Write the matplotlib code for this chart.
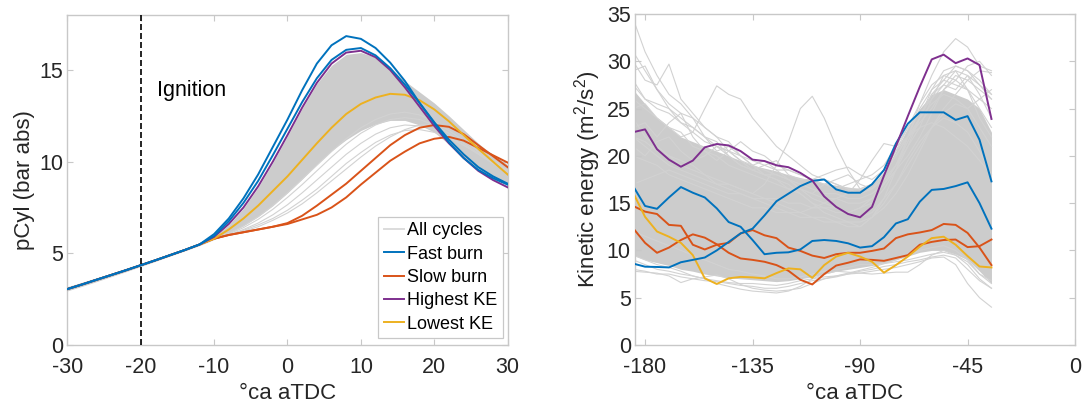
import numpy as np
import matplotlib
matplotlib.use("Agg")
import matplotlib.pyplot as plt
from matplotlib.lines import Line2D

plt.rcParams['font.family'] = ['Liberation Sans', 'DejaVu Sans']
plt.rcParams['mathtext.fontset'] = 'custom'
plt.rcParams['mathtext.rm'] = 'Liberation Sans'
plt.rcParams['mathtext.it'] = 'Liberation Sans:italic'
plt.rcParams['mathtext.default'] = 'regular'
plt.rcParams['axes.unicode_minus'] = False

BLUE, ORANGE, YELLOW, PURPLE = '#0072BD', '#D95319', '#EDB120', '#7E2F8E'
GREY_FILL, GREY_LINE = '#cccccc', '#d2d2d2'
TXT, EDGE = '#262626', '#c8c8c8'

# ---------------- in-cylinder pressure (bar abs) ----------------
ca_comp = [-30, -28, -26, -24, -22, -20, -18, -16, -14, -12]
ca_burn = [-10, -8, -6, -4, -2, 0, 2, 4, 6, 8, 10, 12, 14, 16, 18, 20, 22, 24, 26, 28, 30]

p_compression = [3.05, 3.30, 3.56, 3.82, 4.08, 4.35, 4.62, 4.90, 5.18, 5.48]
p_comp_hi = [3.18, 3.42, 3.67, 3.92, 4.17, 4.43, 4.69, 4.96, 5.24, 5.54]
p_comp_lo = [2.95, 3.20, 3.46, 3.73, 4.00, 4.28, 4.56, 4.85, 5.13, 5.42]

p_fast_1 = [6.05, 6.9, 8.0, 9.3, 10.8, 12.3, 13.9, 15.35, 16.35, 16.85, 16.7,
            16.2, 15.4, 14.4, 13.2, 12.1, 11.05, 10.2, 9.55, 9.1, 8.75]
p_fast_2 = [5.95, 6.75, 7.75, 8.95, 10.35, 11.8, 13.25, 14.55, 15.55, 16.1, 16.2,
            15.8, 15.1, 14.2, 13.2, 12.15, 11.2, 10.4, 9.7, 9.2, 8.8]
p_high_ke = [5.9, 6.6, 7.5, 8.65, 10.0, 11.45, 12.95, 14.3, 15.35, 15.95, 16.05,
             15.7, 15.0, 14.05, 13.0, 11.95, 11.0, 10.2, 9.5, 9.0, 8.6]
p_low_ke = [5.8, 6.3, 6.9, 7.6, 8.4, 9.2, 10.1, 11.0, 11.85, 12.6, 13.15,
            13.5, 13.7, 13.65, 13.35, 12.85, 12.2, 11.45, 10.7, 10.0, 9.3]
p_slow_1 = [5.8, 6.0, 6.15, 6.3, 6.45, 6.65, 7.05, 7.6, 8.2, 8.8, 9.5,
            10.2, 10.9, 11.45, 11.85, 12.0, 11.9, 11.5, 10.9, 10.3, 9.7]
p_slow_2 = [5.8, 6.0, 6.15, 6.3, 6.45, 6.6, 6.85, 7.1, 7.5, 8.05, 8.75,
            9.4, 10.05, 10.55, 11.0, 11.25, 11.35, 11.15, 10.75, 10.35, 9.95]

# bulk of the cycles: upper and lower edge of the dense bundle
p_bulk_hi = [5.9, 6.55, 7.45, 8.6, 9.95, 11.4, 12.9, 14.25, 15.25, 15.85, 15.95,
             15.7, 15.1, 14.4, 13.8, 13.2, 12.5, 11.75, 11.0, 10.35, 9.75]
p_bulk_lo = [5.75, 6.1, 6.5, 7.0, 7.6, 8.3, 9.05, 9.85, 10.6, 11.2, 11.7,
             12.05, 12.25, 12.25, 12.0, 11.6, 10.95, 10.25, 9.6, 9.1, 8.7]
# individual slower cycles below the bundle
p_cycles = [
    [5.8, 6.05, 6.4, 6.85, 7.4, 8.05, 8.75, 9.5, 10.25, 10.95, 11.55,
     12.0, 12.3, 12.4, 12.3, 12.0, 11.55, 11.0, 10.45, 9.9, 9.4],
    [5.8, 6.0, 6.3, 6.65, 7.1, 7.65, 8.3, 9.0, 9.7, 10.4, 11.0,
     11.5, 11.85, 12.0, 11.95, 11.75, 11.35, 10.9, 10.4, 9.9, 9.45],
    [5.8, 6.0, 6.25, 6.55, 6.9, 7.35, 7.9, 8.5, 9.2, 9.9, 10.5,
     11.05, 11.45, 11.7, 11.75, 11.6, 11.3, 10.9, 10.45, 10.0, 9.55],
    [5.8, 6.0, 6.2, 6.45, 6.8, 7.2, 7.7, 8.3, 8.95, 9.6, 10.25,
     10.85, 11.35, 11.75, 12.0, 12.05, 11.85, 11.45, 10.9, 10.35, 9.8],
    [5.8, 6.1, 6.5, 7.0, 7.6, 8.3, 9.05, 9.8, 10.55, 11.25, 11.85,
     12.3, 12.6, 12.7, 12.55, 12.2, 11.7, 11.15, 10.55, 10.0, 9.5],
]

# ---------------- turbulent kinetic energy (m2/s2) ----------------
ca_ke = [-185, -180, -175, -170, -165, -160, -155, -150, -145, -140, -135,
         -130, -125, -120, -115, -110, -105, -100, -95, -90, -85,
         -80, -75, -70, -65, -60, -55, -50, -45, -40, -35]

ke_high = [22.5, 22.8, 20.7, 19.6, 18.85, 19.5, 20.9, 21.25, 21.1, 20.5, 19.6,
           19.45, 19.0, 18.8, 18.2, 17.4, 15.7, 14.6, 13.85, 13.5, 14.6,
           17.9, 21.0, 24.2, 27.3, 30.2, 30.7, 29.8, 30.3, 29.6, 23.9]
ke_low = [16.1, 13.55, 12.0, 11.45, 10.8, 9.5, 7.05, 6.45, 7.05, 7.2, 7.15,
          7.05, 7.6, 8.1, 8.0, 7.1, 8.45, 9.35, 9.75, 9.35, 8.8,
          7.65, 8.45, 9.35, 10.4, 11.3, 11.45, 10.6, 9.4, 8.3, 8.2]
ke_fast_1 = [16.8, 14.7, 14.4, 15.6, 16.7, 16.1, 15.6, 14.45, 13.0, 12.5, 11.1,
             9.6, 9.75, 9.8, 10.1, 11.0, 11.1, 11.0, 10.75, 10.3, 10.45,
             11.4, 12.85, 13.3, 15.15, 16.4, 16.5, 16.8, 17.2, 15.0, 12.3]
ke_fast_2 = [8.61, 8.28, 8.25, 8.2, 8.75, 9.0, 9.25, 10.0, 10.9, 11.8, 12.3,
             13.7, 15.2, 16.0, 16.8, 17.35, 17.5, 16.45, 16.1, 16.1, 17.0,
             18.5, 21.3, 23.4, 24.6, 24.6, 24.6, 23.8, 24.2, 21.7, 17.3]
ke_slow_1 = [14.7, 14.1, 13.85, 12.7, 12.6, 10.6, 10.1, 10.6, 10.8, 11.8, 12.15,
             11.6, 11.3, 10.3, 9.95, 9.45, 9.2, 9.6, 9.75, 9.75, 9.95,
             10.2, 11.3, 11.7, 11.9, 12.15, 12.8, 12.7, 11.85, 10.3, 8.45]
ke_slow_2 = [12.35, 10.8, 9.75, 10.3, 11.1, 11.7, 11.35, 10.65, 9.75, 9.15, 9.0,
             8.8, 8.45, 7.85, 6.9, 6.4, 7.5, 8.4, 8.7, 9.05, 9.0,
             8.9, 9.2, 9.5, 10.6, 10.9, 11.1, 11.15, 10.35, 10.45, 11.15]

ke_bulk_hi = [27.0, 25.5, 24.0, 23.0, 22.0, 21.5, 21.0, 20.5, 20.0, 19.5, 19.0,
              18.7, 18.4, 18.0, 17.7, 17.4, 17.1, 16.9, 16.7, 16.5, 17.0,
              18.3, 20.5, 23.0, 25.0, 26.5, 27.0, 26.5, 26.0, 25.0, 22.5]
ke_bulk_lo = [9.5, 9.0, 8.7, 8.4, 8.0, 7.8, 7.5, 7.3, 7.1, 7.0, 6.9,
              6.8, 6.7, 6.8, 7.0, 7.2, 7.5, 7.8, 8.0, 8.2, 8.4,
              8.7, 9.0, 9.4, 9.8, 10.0, 10.0, 9.6, 9.0, 7.8, 6.5]
ke_cycles = [
    [34.5, 31.0, 28.5, 26.5, 25.5, 24.0, 23.0, 22.0, 21.5, 20.0, 19.0,
     18.5, 18.0, 17.5, 16.5, 15.5, 15.0, 14.5, 14.0, 14.5, 15.5,
     17.0, 18.5, 20.0, 22.0, 24.5, 27.0, 28.5, 28.0, 27.0, 26.0],
    [30.0, 28.0, 27.5, 29.7, 26.0, 24.5, 23.0, 22.0, 20.5, 19.5, 18.5,
     18.0, 17.5, 16.5, 16.0, 15.0, 14.0, 13.5, 13.0, 12.5, 13.5,
     15.0, 17.0, 19.5, 21.5, 23.0, 24.0, 23.5, 22.5, 20.5, 18.0],
    [26.0, 25.0, 24.0, 23.0, 22.0, 22.5, 25.0, 27.4, 26.5, 26.0, 24.0,
     22.5, 21.0, 20.0, 19.0, 18.0, 17.5, 17.0, 16.5, 16.0, 16.5,
     18.0, 20.0, 22.0, 24.0, 25.5, 26.5, 26.0, 25.0, 23.0, 21.0],
    [22.0, 21.0, 20.0, 19.0, 18.5, 18.0, 17.5, 17.0, 17.0, 16.5, 16.0,
     17.0, 19.0, 21.5, 25.0, 26.3, 24.0, 21.0, 18.5, 16.5, 17.0,
     18.5, 20.5, 22.0, 23.0, 23.5, 23.0, 22.0, 21.0, 19.5, 18.0],
    [20.0, 19.5, 19.0, 18.0, 17.5, 17.0, 16.5, 16.0, 15.5, 15.0, 14.5,
     14.5, 14.0, 14.0, 13.5, 13.5, 13.0, 13.0, 12.5, 12.5, 13.5,
     15.5, 18.5, 22.0, 25.5, 28.5, 31.0, 32.4, 31.5, 29.5, 29.0],
    [9.0, 8.5, 8.0, 7.8, 7.5, 7.3, 7.0, 6.8, 6.6, 6.5, 6.5,
     6.4, 6.3, 6.5, 6.8, 7.0, 7.2, 7.3, 7.5, 7.6, 7.8,
     8.0, 8.2, 8.5, 8.8, 9.2, 9.3, 8.5, 6.5, 5.0, 4.0],
    [7.8, 7.7, 7.6, 7.3, 6.6, 7.0, 7.2, 7.4, 7.0, 6.4, 6.0,
     5.8, 5.7, 5.8, 6.0, 6.5, 7.0, 7.3, 7.6, 7.9, 8.2,
     8.6, 9.0, 9.5, 10.0, 10.3, 10.5, 10.0, 9.0, 7.5, 6.5],
    [9.5, 9.0, 8.5, 8.2, 7.8, 7.3, 7.0, 6.5, 6.2, 5.9, 5.7,
     5.6, 5.5, 5.7, 6.2, 7.0, 7.5, 7.8, 7.7, 7.6, 7.5,
     7.6, 7.7, 7.7, 8.5, 9.5, 10.0, 9.5, 8.5, 7.0, 6.0],
    [17.0, 17.5, 18.0, 18.5, 18.0, 17.5, 17.0, 16.5, 16.0, 16.0, 15.5,
     15.5, 15.0, 14.5, 14.0, 14.5, 15.0, 15.5, 16.0, 17.5, 19.5,
     21.3, 21.0, 22.0, 24.0, 26.5, 28.0, 27.5, 27.0, 26.0, 25.0],
    [24.0, 22.0, 21.0, 20.0, 19.5, 19.0, 18.0, 17.0, 16.5, 16.0, 15.5,
     15.0, 14.5, 14.0, 14.0, 13.5, 13.5, 13.0, 13.0, 13.0, 13.5,
     14.5, 16.0, 18.0, 20.5, 23.0, 25.0, 26.5, 28.0, 29.0, 28.8],
    [28.0, 26.0, 25.5, 25.0, 24.0, 23.0, 22.0, 21.5, 20.0, 19.0, 18.5,
     18.0, 17.5, 17.0, 16.0, 15.0, 14.5, 14.0, 14.0, 13.5, 14.0,
     15.5, 17.0, 19.0, 21.0, 23.0, 24.5, 25.5, 25.0, 26.0, 27.0],
    [29.0, 29.5, 27.0, 25.5, 24.5, 24.0, 22.0, 20.5, 21.0, 20.0, 19.0,
     19.5, 18.5, 17.5, 16.5, 16.0, 17.0, 17.5, 18.0, 17.0, 16.5,
     17.5, 19.0, 21.0, 23.0, 26.0, 28.5, 29.0, 27.0, 24.0, 22.0],
    [27.5, 26.0, 25.0, 24.5, 23.5, 22.5, 21.5, 21.0, 20.5, 20.0, 19.5,
     19.0, 18.5, 18.5, 18.0, 17.5, 17.5, 17.0, 16.5, 16.5, 17.0,
     18.5, 20.5, 23.0, 25.5, 27.5, 28.5, 28.0, 27.0, 25.0, 23.0],
    [25.0, 25.5, 24.0, 23.0, 22.5, 21.0, 20.5, 20.0, 19.0, 18.5, 18.0,
     17.5, 17.0, 16.5, 16.5, 16.0, 15.5, 15.5, 15.0, 15.0, 15.5,
     17.0, 19.0, 21.5, 24.0, 26.5, 27.5, 29.0, 28.5, 26.5, 24.0],
    [31.0, 29.0, 27.0, 25.0, 23.5, 23.0, 22.0, 21.0, 20.5, 19.5, 19.0,
     18.0, 18.0, 17.5, 17.0, 16.5, 16.0, 16.0, 15.5, 15.5, 16.0,
     17.0, 19.0, 22.0, 25.0, 27.0, 28.0, 29.5, 29.0, 28.0, 26.5],
    [8.0, 7.8, 7.5, 7.5, 7.2, 7.0, 6.8, 6.7, 6.5, 6.3, 6.2,
     6.0, 6.0, 6.2, 6.5, 6.8, 7.0, 7.2, 7.5, 7.8, 8.0,
     8.3, 8.5, 8.8, 9.0, 9.3, 9.5, 9.2, 8.0, 6.8, 6.0],
    [21.0, 20.0, 21.5, 22.0, 20.5, 19.5, 20.0, 21.0, 20.0, 19.0, 18.5,
     19.0, 19.5, 18.0, 17.5, 17.5, 18.0, 18.5, 18.8, 18.0, 17.5,
     18.5, 20.0, 22.0, 23.5, 25.0, 27.0, 28.0, 29.5, 30.0, 28.5],
    [23.0, 23.5, 22.0, 23.5, 24.5, 22.0, 20.5, 19.5, 20.5, 21.5, 20.5,
     20.0, 19.0, 18.5, 18.0, 17.5, 17.0, 16.5, 17.0, 17.5, 18.0,
     19.0, 21.0, 23.0, 24.5, 26.0, 27.5, 27.0, 28.5, 27.5, 26.0],
    [22.0, 21.5, 20.5, 20.0, 19.0, 18.5, 18.0, 17.5, 17.0, 16.5, 16.0,
     15.5, 15.5, 15.0, 15.0, 14.5, 14.5, 14.5, 14.0, 14.5, 15.0,
     16.5, 18.5, 21.0, 24.0, 27.0, 29.0, 29.5, 29.0, 27.5, 26.5],
    [12.0, 11.5, 11.0, 10.5, 10.0, 9.5, 9.0, 8.5, 8.0, 7.8, 7.5,
     7.3, 7.0, 7.0, 7.2, 7.5, 7.8, 8.0, 8.2, 8.5, 8.5,
     8.6, 8.8, 9.0, 9.3, 9.6, 9.8, 9.5, 8.8, 7.5, 6.8],
]

fig = plt.figure(figsize=(10.82, 4.09), dpi=100)
ax1 = fig.add_axes([0.0622, 0.1565, 0.4070, 0.8068])
ax2 = fig.add_axes([0.5869, 0.1565, 0.4067, 0.8093])


def full(burn):
    return np.concatenate([p_compression, burn])


ca_p = np.concatenate([ca_comp, ca_burn])

# pressure panel
ax1.fill_between(ca_p, np.concatenate([p_comp_lo, p_bulk_lo]),
                 np.concatenate([p_comp_hi, p_bulk_hi]),
                 color=GREY_FILL, lw=0, zorder=1)
for cyc in p_cycles:
    ax1.plot(ca_p, full(cyc), color=GREY_LINE, lw=0.8, zorder=1.5)
ax1.plot(ca_p, full(p_slow_1), color=ORANGE, lw=1.4, zorder=3)
ax1.plot(ca_p, full(p_slow_2), color=ORANGE, lw=1.4, zorder=3)
ax1.plot(ca_p, full(p_low_ke), color=YELLOW, lw=1.4, zorder=3)
ax1.plot(ca_p, full(p_high_ke), color=PURPLE, lw=1.4, zorder=3)
ax1.plot(ca_p, full(p_fast_2), color=BLUE, lw=1.4, zorder=3)
ax1.plot(ca_p, full(p_fast_1), color=BLUE, lw=1.4, zorder=3)

ax1.axvline(-20, color='black', lw=1.2, ls=(0, (3.6, 1.8)), zorder=4)
ax1.text(-17.8, 13.9, 'Ignition', fontsize=15.5, va='center', color='black')

ax1.set_xlim(-30, 30)
ax1.set_ylim(0, 18)
ax1.set_xticks([-30, -20, -10, 0, 10, 20, 30])
ax1.set_yticks([0, 5, 10, 15])
ax1.set_xlabel('°ca aTDC', fontsize=16, color=TXT, labelpad=3)
ax1.set_ylabel('pCyl (bar abs)', fontsize=16, color=TXT, labelpad=3)

handles = [Line2D([], [], color='#dcdcdc', lw=1.4),
           Line2D([], [], color=BLUE, lw=1.4),
           Line2D([], [], color=ORANGE, lw=1.4),
           Line2D([], [], color=PURPLE, lw=1.4),
           Line2D([], [], color=YELLOW, lw=1.4)]
leg = ax1.legend(handles, ['All cycles', 'Fast burn', 'Slow burn', 'Highest KE', 'Lowest KE'],
                 loc='lower right', bbox_to_anchor=(0.989, 0.021), borderaxespad=0,
                 fontsize=13, handlelength=1.1, handletextpad=0.2, borderpad=0.3,
                 labelspacing=0.35, fancybox=False, framealpha=1, edgecolor=EDGE)
leg.get_frame().set_linewidth(0.9)
for t in leg.get_texts():
    t.set_color('black')

# kinetic energy panel
ax2.fill_between(ca_ke, ke_bulk_lo, ke_bulk_hi, color=GREY_FILL, lw=0, zorder=1)
for cyc in ke_cycles:
    ax2.plot(ca_ke, cyc, color=GREY_LINE, lw=0.8, zorder=1.5)
ax2.plot(ca_ke, ke_slow_1, color=ORANGE, lw=1.4, zorder=3)
ax2.plot(ca_ke, ke_slow_2, color=ORANGE, lw=1.4, zorder=3)
ax2.plot(ca_ke, ke_low, color=YELLOW, lw=1.4, zorder=3)
ax2.plot(ca_ke, ke_fast_1, color=BLUE, lw=1.4, zorder=3)
ax2.plot(ca_ke, ke_fast_2, color=BLUE, lw=1.4, zorder=3)
ax2.plot(ca_ke, ke_high, color=PURPLE, lw=1.4, zorder=3)

ax2.set_xlim(-184.2, 0)
ax2.set_ylim(0, 35)
ax2.set_xticks([-180, -135, -90, -45, 0])
ax2.set_yticks([0, 5, 10, 15, 20, 25, 30, 35])
ax2.set_xlabel('°ca aTDC', fontsize=16, color=TXT, labelpad=3)
ax2.set_ylabel('Kinetic energy (m$^2$/s$^2$)', fontsize=16, color=TXT, labelpad=3)

for ax in (ax1, ax2):
    for sp in ax.spines.values():
        sp.set_color(EDGE)
        sp.set_linewidth(1.0)
    ax.tick_params(direction='in', length=4, width=0.8, color=EDGE,
                   labelcolor=TXT, labelsize=15.5, top=True, right=True)
    ax.tick_params(axis='x', pad=9)
    ax.tick_params(axis='y', pad=3)

fig.savefig('out.png', dpi=100)
